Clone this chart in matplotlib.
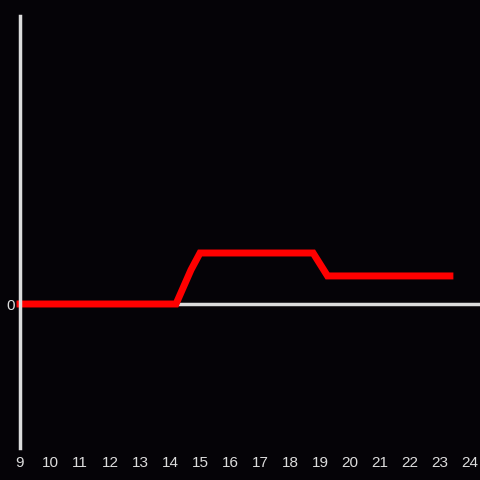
import matplotlib
matplotlib.use("Agg")
import matplotlib.pyplot as plt

# data
x_vals = [9, 14.2, 14.7, 15.0, 18.77, 19.25, 23.33]
y_vals = [0, 0, 0.67, 1.0, 1.0, 0.55, 0.55]
x_ticks = list(range(9, 25))

bg = "#050307"
axis_col = "#dcdcdc"

fig = plt.figure(figsize=(4.8, 4.8), dpi=100, facecolor=bg)
ax = fig.add_axes([20/480, 32/480, 460/480, 432/480], facecolor=bg)

ax.axhline(0, color=axis_col, lw=2.5, zorder=1)
ax.plot(x_vals, y_vals, color="#ff0000", lw=5, solid_capstyle="projecting",
        solid_joinstyle="miter", zorder=2, clip_on=False)

ax.set_xlim(9, 24.333)
ax.set_ylim(-144/51, 288/51)
ax.set_xticks(x_ticks)
ax.set_yticks([0])
ax.tick_params(length=0, colors=axis_col, labelsize=11, pad=6)
ax.tick_params(axis="y", pad=4)
for lab in ax.get_xticklabels() + ax.get_yticklabels():
    lab.set_family("Liberation Sans")

for s in ["top", "right", "bottom"]:
    ax.spines[s].set_visible(False)
ax.spines["left"].set_color(axis_col)
ax.spines["left"].set_linewidth(2.5)
ax.spines["left"].set_zorder(3)

fig.savefig("out.png", dpi=100, facecolor=bg)
